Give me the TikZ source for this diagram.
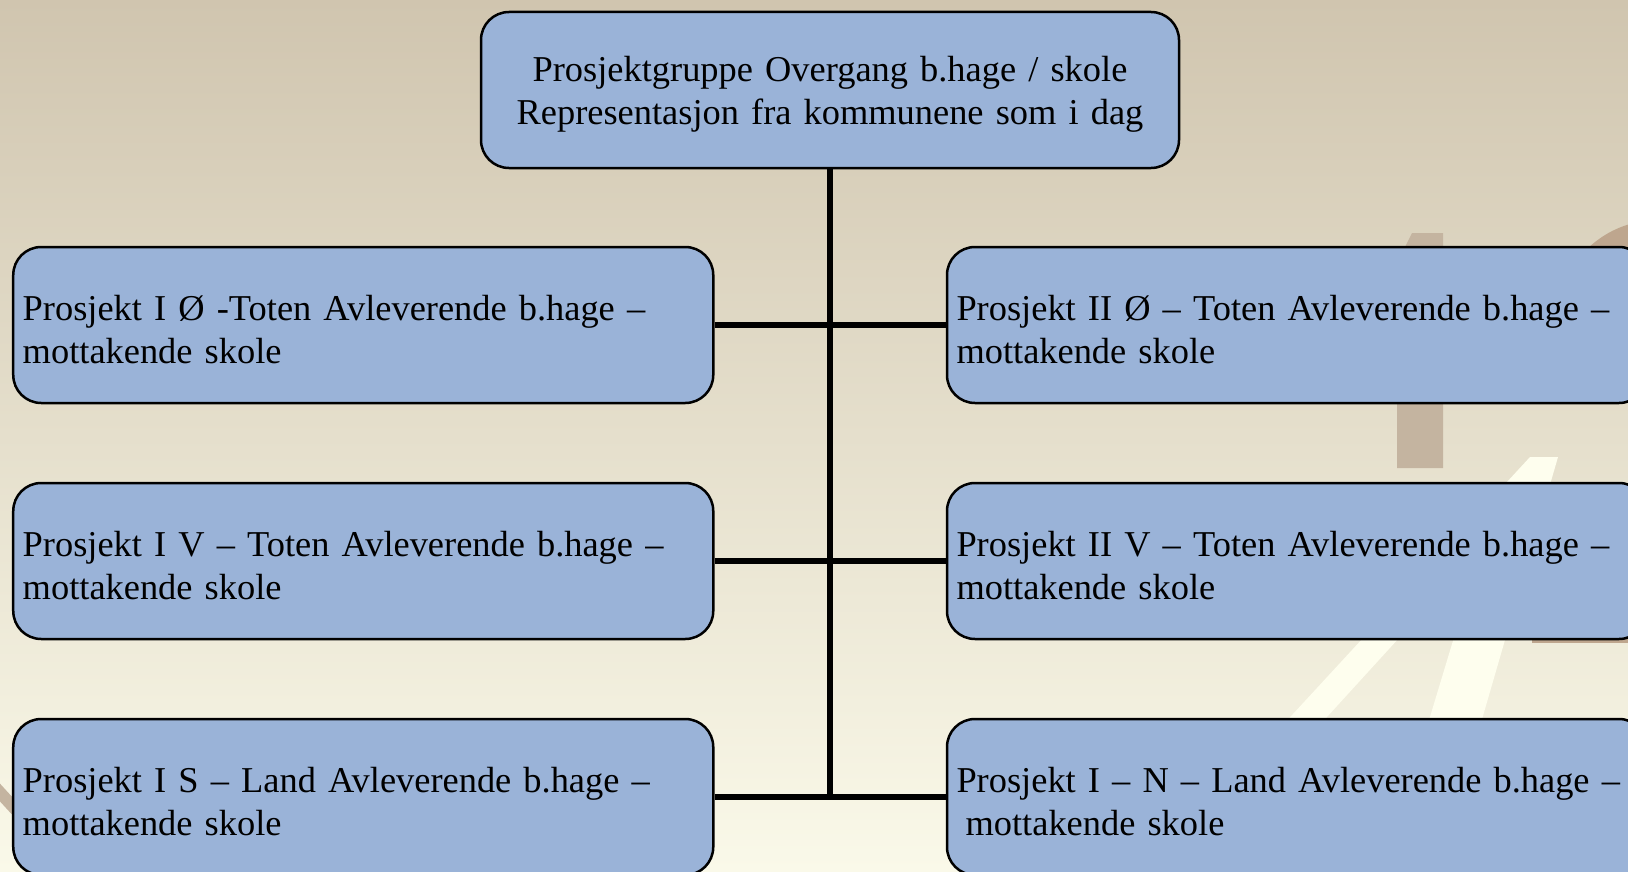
\documentclass[tikz,border=0pt]{standalone}
\usepackage{fontspec}
\setmainfont{Liberation Serif}
\newcommand\boxtxt{\fontsize{36.4bp}{43.6bp}\selectfont}
\definecolor{bgtop}{RGB}{208,197,175}
\definecolor{bgbot}{RGB}{250,249,233}
\definecolor{boxblue}{RGB}{154,179,216}
\definecolor{barbrown}{RGB}{196,180,160}
\definecolor{arcbrown}{RGB}{190,166,142}
\definecolor{stripe}{RGB}{254,254,238}
\tikzset{
  orgbox/.style={draw=black, line width=2.5bp, fill=boxblue, rounded corners=28bp,
    minimum width=700bp, minimum height=156bp, inner xsep=9.5bp, inner ysep=0bp,
    text width=681bp, font=\boxtxt, anchor=center},
  sidebox/.style={orgbox, align=left},
  headbox/.style={orgbox, minimum width=698bp, text width=679bp, align=center},
  link/.style={draw=black, line width=5.5bp}
}
\newcommand\dn{\rule{0pt}{34bp}}
\begin{document}
\begin{tikzpicture}[x=1bp,y=-1bp]
\useasboundingbox (0,0) rectangle (1628,871);
\begin{scope}
\clip (0,0) rectangle (1628,871);
% background
\shade[top color=bgtop, bottom color=bgbot] (0,0) rectangle (1628,871);
% decorations
\fill[barbrown] (1412,233) -- (1443,233) -- (1443,468) -- (1397,468) -- (1397,263) -- cycle;
\fill[arcbrown] (1588,248) .. controls (1600,237) and (1613,229) .. (1630,224) -- (1630,260) -- (1588,260) -- cycle;
\fill[arcbrown] (1532,636) rectangle (1640,643);
\fill[stripe] (1530,457) -- (1558,457) -- (1476,740) -- (1423,740) -- (1481,548) -- (1306,740) -- (1269,740) -- cycle;
\draw[barbrown, line width=12bp] (-6,786) -- (16,810);
\end{scope}
% boxes
\node[headbox] (top) at (830,90) {\dn Prosjektgruppe Overgang b.hage / skole\\Representasjon fra kommunene som i dag};
\node[sidebox] (l1) at (363.25,325) {\dn Prosjekt I Ø -Toten Avleverende b.hage –\\mottakende skole};
\node[sidebox] (l2) at (363.25,561) {\dn Prosjekt I V – Toten Avleverende b.hage –\\mottakende skole};
\node[sidebox] (l3) at (363.25,797) {\dn Prosjekt I S – Land Avleverende b.hage –\\mottakende skole};
\node[sidebox] (r1) at (1297,325) {\dn Prosjekt II Ø – Toten Avleverende b.hage –\\mottakende skole};
\node[sidebox] (r2) at (1297,561) {\dn Prosjekt II V – Toten Avleverende b.hage –\\mottakende skole};
\node[sidebox] (r3) at (1297,797) {\dn Prosjekt I – N – Land Avleverende b.hage –\\\hspace*{0.25em}mottakende skole};
% connectors
\coordinate (trunkend) at (top.south |- l3.east);
\draw[link] (top.south) -- (trunkend);
\draw[link] (l1.east) -- (r1.west);
\draw[link] (l2.east) -- (r2.west);
\draw[link] (l3.east) -- (r3.west);
\end{tikzpicture}
\end{document}
